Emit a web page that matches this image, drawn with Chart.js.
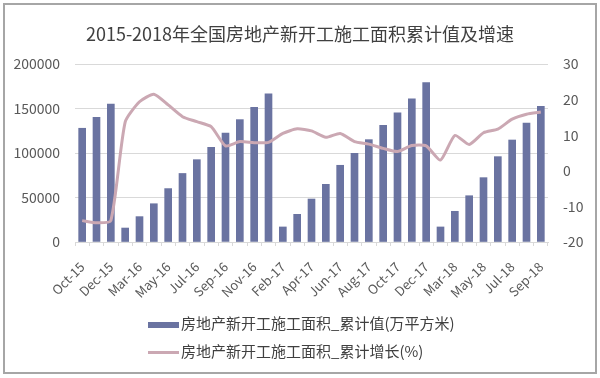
<!DOCTYPE html>
<html>
<head>
<meta charset="utf-8">
<script src="https://cdn.jsdelivr.net/npm/chart.js@4"></script>
<style>
  body { margin: 0; background: #fff; }
  #wrap { position: relative; width: 600px; height: 378px; }
  #frame { position: absolute; left: 3px; top: 3px; width: 590px; height: 367px; border: 2px solid #a6a6a6; box-sizing: content-box; pointer-events: none; }
  #legend { position: absolute; left: 148px; top: 309px; font-family: "Noto Sans CJK SC", sans-serif; font-size: 15px; color: #404040; }
  .item { height: 28px; line-height: 28px; white-space: nowrap; }
  .swatch { display: inline-block; width: 31px; vertical-align: middle; margin-right: 2px; }
</style>
</head>
<body>
<div id="wrap">
  <canvas id="chartCanvas" width="600" height="378"></canvas>
  <div id="frame"></div>
  <div id="legend"></div>
</div>
<script>
// categories (Jan is merged into Feb in the source data)
const months = ['Oct-15', 'Nov-15', 'Dec-15',
  'Feb-16', 'Mar-16', 'Apr-16', 'May-16', 'Jun-16', 'Jul-16', 'Aug-16', 'Sep-16', 'Oct-16', 'Nov-16', 'Dec-16',
  'Feb-17', 'Mar-17', 'Apr-17', 'May-17', 'Jun-17', 'Jul-17', 'Aug-17', 'Sep-17', 'Oct-17', 'Nov-17', 'Dec-17',
  'Feb-18', 'Mar-18', 'Apr-18', 'May-18', 'Jun-18', 'Jul-18', 'Aug-18', 'Sep-18'];

// 累计值 (万平方米)
const areaValues = [127800, 140100, 155000,
  15700, 28500, 43000, 60000, 77000, 92500, 106400, 122500, 137500, 151300, 166600,
  16900, 31100, 48300, 64800, 86200, 99700, 115000, 131100, 145000, 161000, 179000,
  16900, 34500, 52000, 72300, 95900, 114600, 133700, 152500];

// 累计增长 (%)
const growthValues = [-14.0, -14.6, -14.0,
  13.7, 19.4, 21.5, 18.5, 15.2, 13.8, 12.4, 7.0, 8.2, 7.9, 8.0,
  10.5, 11.8, 11.2, 9.4, 10.5, 8.2, 7.5, 6.3, 5.4, 7.1, 7.0,
  3.0, 9.9, 7.4, 10.7, 11.7, 14.5, 15.9, 16.5];

const leftTicks = [0, 50000, 100000, 150000, 200000];
const rightTicks = [-20, -10, 0, 10, 20, 30];

const barName = '房地产新开工施工面积_累计值(万平方米)';
const lineName = '房地产新开工施工面积_累计增长(%)';
const barColor = '#6a73a1';
const lineColor = '#cba8b3';
const fontFamily = '"Noto Sans CJK SC", sans-serif';

window.onload = function() {
    const ctx = document.getElementById('chartCanvas').getContext('2d');

    new Chart(ctx, {
        type: 'bar',
        data: {
            labels: months,
            datasets: [{
                type: 'bar',
                label: barName,
                data: areaValues,
                backgroundColor: barColor,
                yAxisID: 'y',
                barThickness: 7,
                order: 2
            }, {
                type: 'line',
                label: lineName,
                data: growthValues,
                borderColor: lineColor,
                borderWidth: 3,
                pointRadius: 0,
                tension: 0.2,
                yAxisID: 'y1',
                order: 1
            }]
        },
        options: {
            responsive: false,
            animation: false,
            layout: { padding: { left: 0, right: 0, top: 0, bottom: 66 } },
            plugins: {
                legend: { display: false },
                tooltip: { enabled: false },
                title: {
                    display: true,
                    text: '2015-2018年全国房地产新开工施工面积累计值及增速',
                    color: '#404040',
                    font: { family: fontFamily, size: 18, weight: 'normal' },
                    padding: { top: 23, bottom: 19.4 }
                }
            },
            scales: {
                x: {
                    offset: true,
                    afterFit: function(scale) { scale.height = 70; },
                    grid: {
                        offset: true,
                        drawOnChartArea: false,
                        drawTicks: true,
                        tickLength: 4,
                        color: '#d9d9d9'
                    },
                    border: { color: '#d9d9d9' },
                    ticks: {
                        autoSkip: false,
                        minRotation: 45,
                        maxRotation: 45,
                        color: '#595959',
                        padding: 13,
                        font: { family: fontFamily, size: 13 },
                        callback: function(v, i) { return i % 2 === 0 ? months[i] : ''; }
                    }
                },
                y: {
                    position: 'left',
                    min: 0,
                    max: 200000,
                    afterFit: function(scale) { scale.width = 75; },
                    afterBuildTicks: function(scale) { scale.ticks = leftTicks.map(v => ({ value: v })); },
                    grid: { color: '#d9d9d9', drawTicks: false },
                    border: { display: false },
                    ticks: {
                        color: '#595959',
                        padding: 15,
                        font: { family: fontFamily, size: 14 },
                        callback: function(v) { return String(v); }
                    }
                },
                y1: {
                    position: 'right',
                    min: -20,
                    max: 30,
                    afterFit: function(scale) { scale.width = 52; },
                    afterBuildTicks: function(scale) { scale.ticks = rightTicks.map(v => ({ value: v })); },
                    grid: { drawOnChartArea: false, drawTicks: false },
                    border: { display: false },
                    ticks: {
                        color: '#595959',
                        padding: 15,
                        font: { family: fontFamily, size: 14 },
                        callback: function(v) { return String(v); }
                    }
                }
            }
        }
    });

    // legend, stacked like the original
    const legend = document.getElementById('legend');
    const items = [
        { name: barName, style: 'height:6px;background:' + barColor },
        { name: lineName, style: 'height:3px;background:' + lineColor }
    ];
    items.forEach(it => {
        const row = document.createElement('div');
        row.className = 'item';
        const sw = document.createElement('span');
        sw.className = 'swatch';
        sw.style.cssText = it.style;
        const txt = document.createElement('span');
        txt.textContent = it.name;
        row.appendChild(sw);
        row.appendChild(txt);
        legend.appendChild(row);
    });
};
</script>
</body>
</html>
